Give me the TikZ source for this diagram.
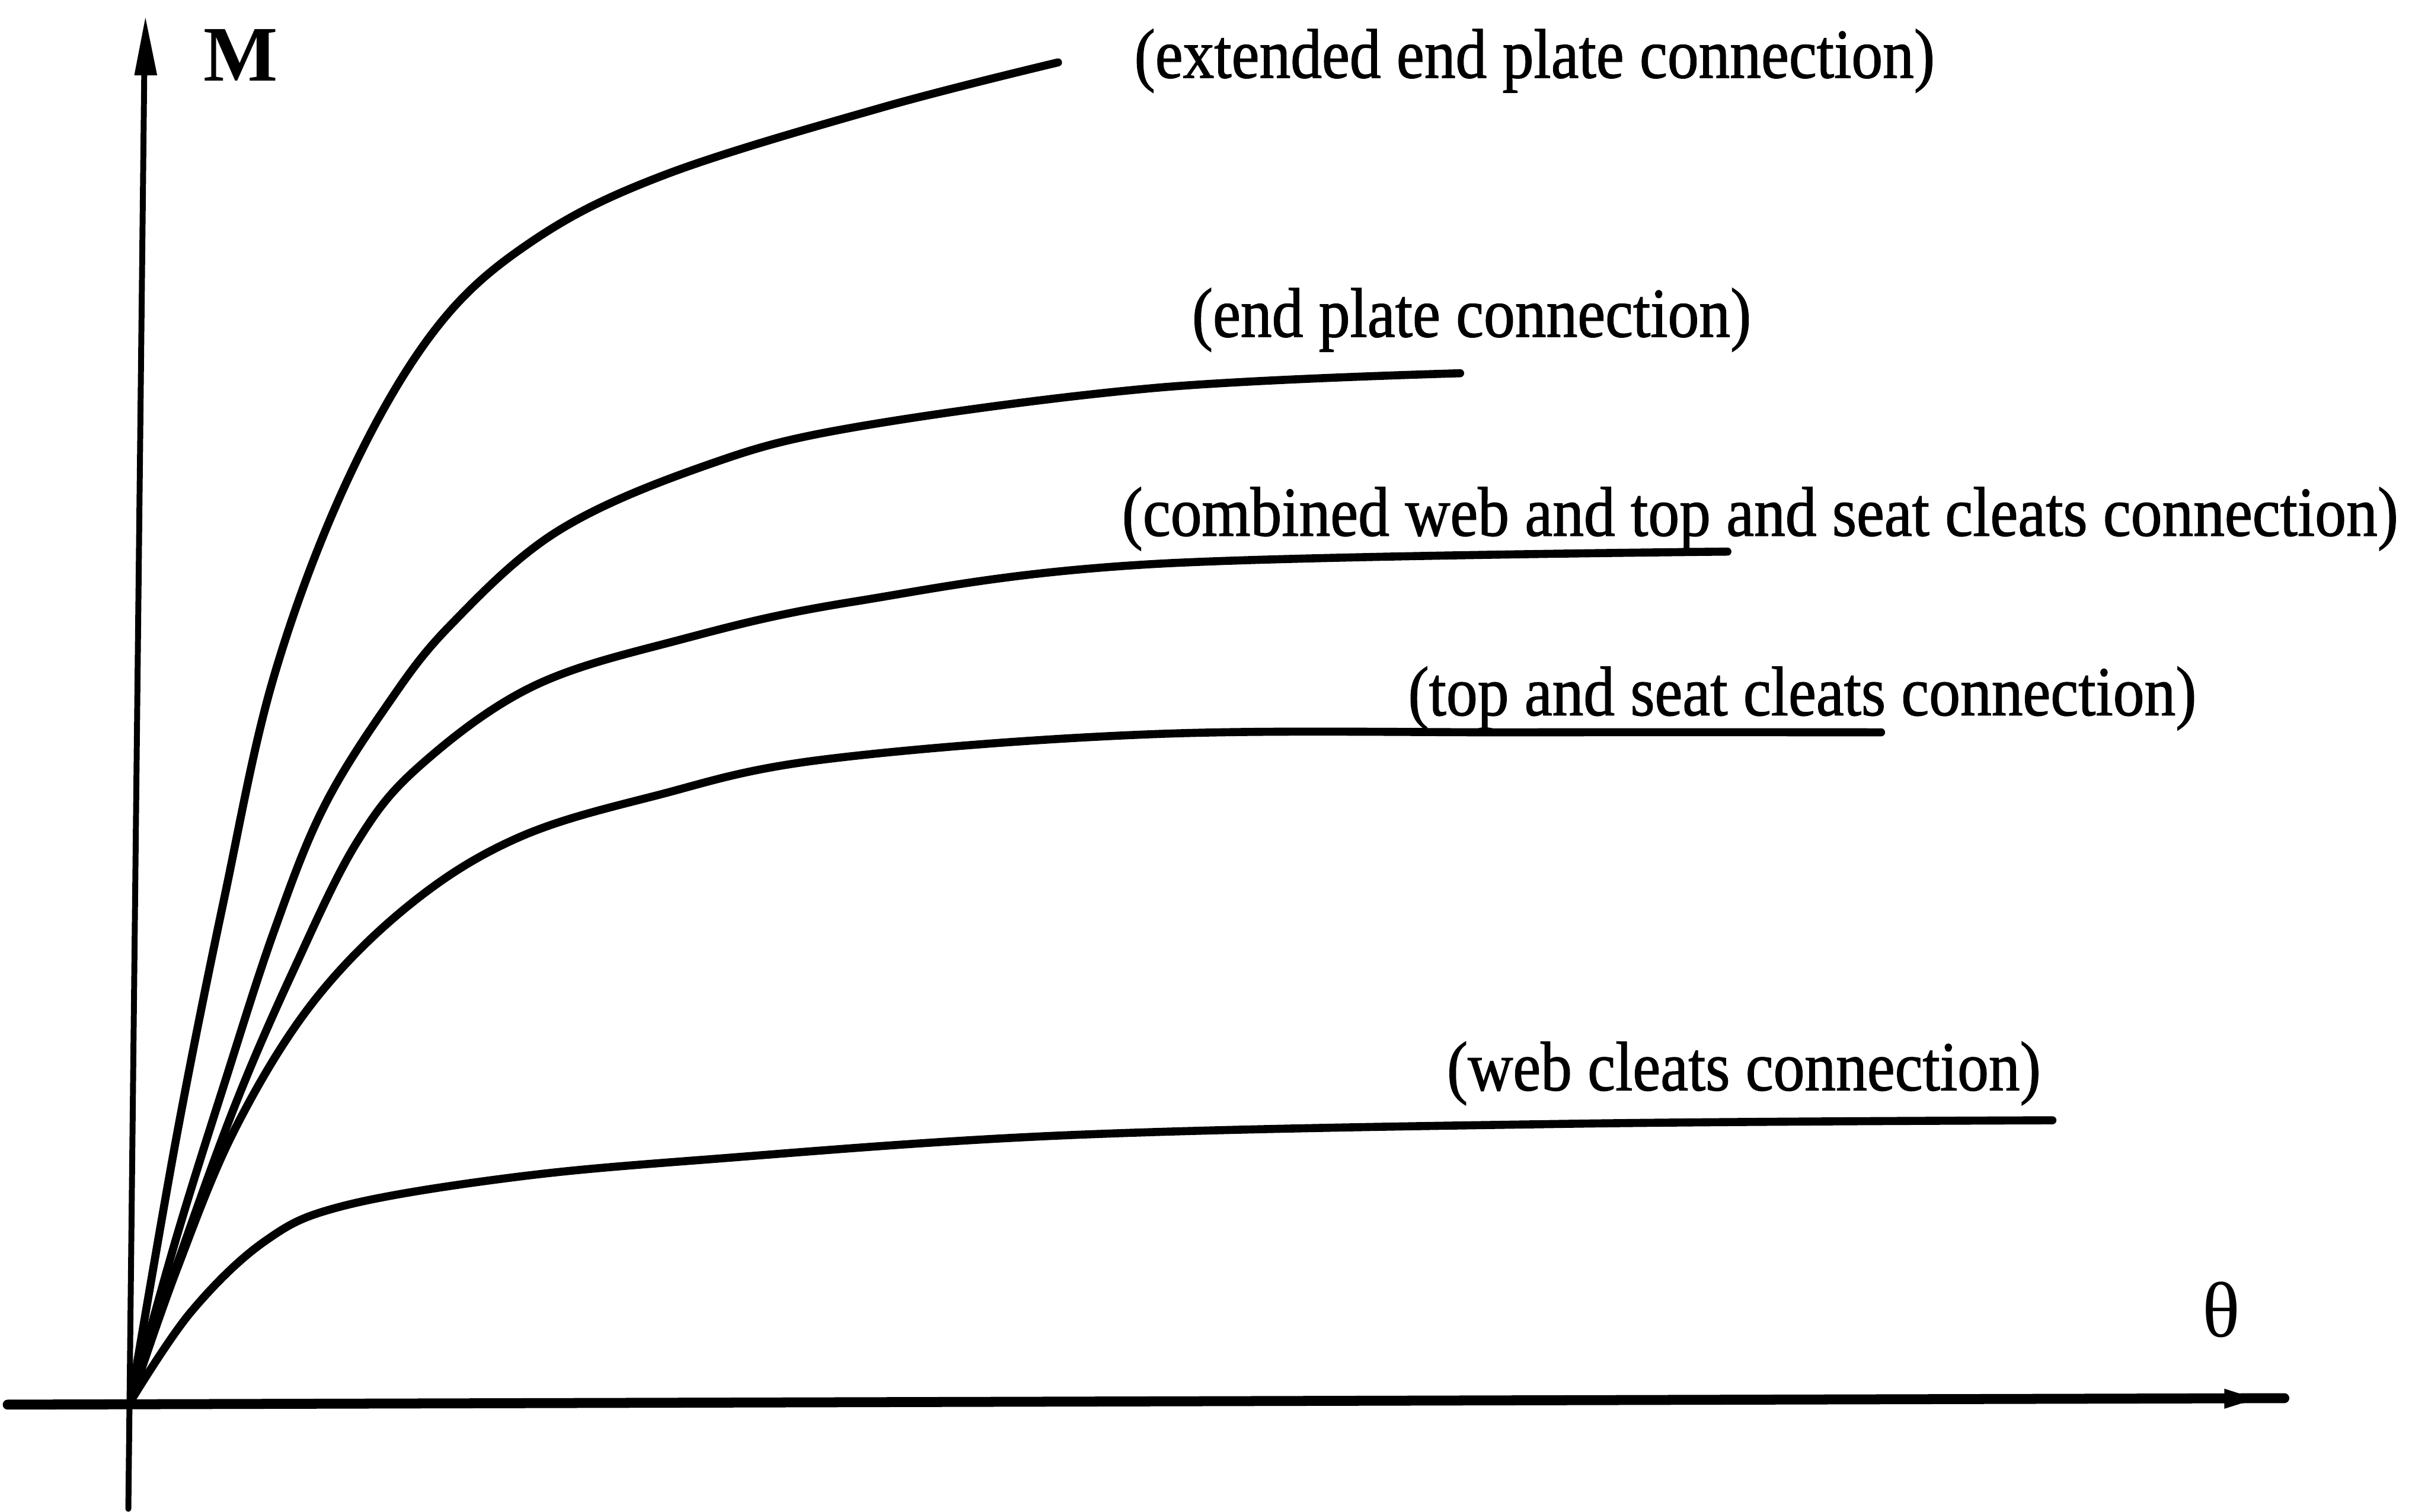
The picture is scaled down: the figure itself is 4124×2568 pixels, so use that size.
\documentclass[tikz,border=0pt]{standalone}
\usepackage{graphicx}
\usepackage{fontspec}
\setmainfont{Liberation Serif}
\newfontfamily\lblfont[FakeBold=1.2]{Liberation Serif}
\begin{document}
\begin{tikzpicture}[x=0.01cm,y=-0.01cm,
  curve/.style={line width=3.9pt, line cap=round, line join=round},
  lbl/.style={anchor=base west, inner sep=0pt, font=\lblfont\fontsize{30.2}{36}\selectfont},
  axislbl/.style={inner sep=0pt, font=\fontsize{38}{44}\selectfont}]
\useasboundingbox (0,0) rectangle (4124,2568);

% axes
\coordinate (O) at (222,2380);
\coordinate (ybot) at (218,2563);
\coordinate (ytop) at (245,125);
\coordinate (ytip) at (247,30);
\coordinate (xleft) at (13,2386);
\coordinate (xright) at (3880,2375);
\draw[line width=2.85pt, line cap=round] (ybot) -- (ytop);
\fill (ytip) -- (228,128) -- (267,128) -- cycle;
\draw[line width=4.8pt, line cap=round] (xleft) -- (xright);
\fill (3778,2359) -- (3832,2376) -- (3778,2393) -- cycle;

\node[axislbl, anchor=base west, font=\fontsize{38}{44}\selectfont\bfseries] (M) at (345,137) {M};
\node[axislbl] (theta) at (3773,2225) {θ};

% curves
\draw[curve] plot[smooth, tension=0.6] coordinates {(222,2380) (300,1930) (380,1530) (465,1150) (590,816) (739,560) (905,409) (1129,297) (1500,182) (1797,106)};
\draw[curve] plot[smooth, tension=0.6] coordinates {(222,2380) (300,2101) (382,1838) (465,1583) (548,1375) (656,1200) (764,1063) (946,903) (1195,792) (1450,726) (1961,659) (2480,634)};
\draw[curve] plot[smooth, tension=0.6] coordinates {(222,2380) (300,2150) (399,1878) (499,1647) (606,1431) (714,1300) (905,1166) (1154,1087) (1450,1022) (1961,958) (2934,937)};
\draw[curve] plot[smooth, tension=0.6] coordinates {(222,2380) (300,2157) (399,1918) (532,1702) (698,1535) (880,1423) (1112,1352) (1400,1290) (1961,1247) (2600,1244) (3195,1244)};
\draw[curve] plot[smooth, tension=0.6] coordinates {(222,2380) (324,2229) (449,2109) (581,2049) (863,2001) (1195,1970) (1821,1928) (2663,1909) (3486,1903)};

% labels
\node[lbl] (l1) at (1926,132) {\scalebox{1}[1.12]{(extended end plate connection)}};
\node[lbl] (l2) at (2024,572) {\scalebox{1}[1.12]{(end plate connection)}};
\node[lbl] (l3) at (1905,910) {\scalebox{1}[1.12]{(combined web and top and seat cleats connection)}};
\node[lbl] (l4) at (2391,1215) {\scalebox{1}[1.12]{(top and seat cleats connection)}};
\node[lbl] (l5) at (2457,1852) {\scalebox{1}[1.12]{(web cleats connection)}};
\end{tikzpicture}
\end{document}
